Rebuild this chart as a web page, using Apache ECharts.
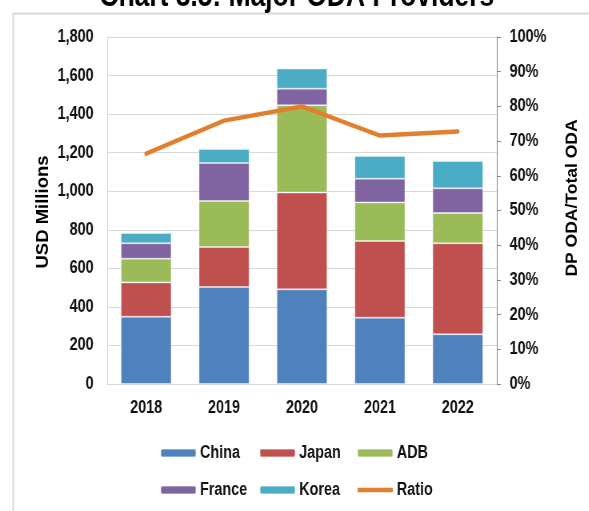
<!DOCTYPE html>
<html>
<head>
<meta charset="utf-8">
<style>
  html, body { margin: 0; padding: 0; background: #ffffff; overflow: hidden; }
  #frame { width: 589px; height: 511px; overflow: hidden; }
  /* the chart is laid out on a wider canvas and narrowed horizontally */
  #chart { width: 736px; height: 511px; transform: scaleX(0.8); transform-origin: 0 0; }
</style>
<script src="https://cdn.jsdelivr.net/npm/echarts@6/dist/echarts.min.js"></script>
</head>
<body>
<div id="frame"><div id="chart"></div></div>
<script>
// Development partner ODA by provider (USD millions) and the partners' share of total ODA
const years = ['2018', '2019', '2020', '2021', '2022'];
const china  = [349, 503, 491, 344, 258];
const japan  = [178, 208, 502, 398, 472];
const adb    = [123, 238, 453, 200, 157];
const france = [80, 197, 86, 123, 128];
const korea  = [53, 73, 104, 118, 142];
const ratio  = [0.664, 0.759, 0.800, 0.716, 0.728];

const leftTicks = { min: 0, max: 1800, interval: 200 };
const rightTicks = { min: 0, max: 1, interval: 0.1 };

const FONT = '"Liberation Sans", Arial, Helvetica, sans-serif';
const colors = {
  China: '#4F81BD', Japan: '#C0504D', ADB: '#9BBB59',
  France: '#8064A2', Korea: '#4BACC6', Ratio: '#E0802F'
};

function barSeries(name, values) {
  return {
    name: name,
    type: 'bar',
    stack: 'oda',
    barCategoryGap: '35%',
    data: values,
    itemStyle: { color: colors[name], borderColor: 'rgba(255,255,255,0.35)', borderWidth: 1 }
  };
}

function legendColumn(left, names) {
  return {
    orient: 'vertical',
    left: left,
    top: 444,
    padding: 0,
    itemWidth: 44,
    itemHeight: 8,
    itemGap: 19,
    data: names.map(n => n === 'Ratio'
      ? { name: n, icon: 'path://M0,0L40,0L40,4L0,4Z' }
      : { name: n }),
    textStyle: { fontFamily: FONT, fontWeight: 'bold', fontSize: 18, lineHeight: 18, color: '#111' }
  };
}

const chart = echarts.init(document.getElementById('chart'), null, { renderer: 'canvas' });
chart.setOption({
  animation: false,
  backgroundColor: '#ffffff',
  grid: { left: 134, right: 115, top: 37, bottom: 127, containLabel: false },
  graphic: [
    {
      type: 'rect', left: 14, top: 11, z: -10,
      shape: { x: 0, y: 0, width: 780, height: 540 },
      style: { fill: 'none', stroke: '#D9D9D9', lineWidth: 2 }
    },
    {
      type: 'text', x: 371, y: -3,
      style: {
        text: 'Chart 3.5: Major ODA Providers', fill: '#000',
        font: 'bold 33px ' + FONT, align: 'center', verticalAlign: 'middle'
      }
    },
    {
      type: 'text', x: 54, y: 212, rotation: Math.PI / 2, scaleY: 1.15,
      style: {
        text: 'USD Millions', fill: '#000',
        font: 'bold 18.5px ' + FONT, align: 'center', verticalAlign: 'middle'
      }
    },
    {
      type: 'text', x: 715, y: 198, rotation: Math.PI / 2, scaleY: 1.15,
      style: {
        text: 'DP ODA/Total ODA', fill: '#000',
        font: 'bold 17.5px ' + FONT, align: 'center', verticalAlign: 'middle'
      }
    }
  ],
  legend: [
    legendColumn(200, ['China', 'France']),
    legendColumn(324, ['Japan', 'Korea']),
    legendColumn(446, ['ADB', 'Ratio'])
  ],
  xAxis: {
    type: 'category',
    data: years,
    axisLine: { show: true, lineStyle: { color: '#D9D9D9', width: 1 } },
    axisTick: { show: false },
    axisLabel: { margin: 15, fontFamily: FONT, fontWeight: 'bold', fontSize: 18, color: '#111' }
  },
  yAxis: [
    {
      type: 'value',
      min: leftTicks.min, max: leftTicks.max, interval: leftTicks.interval,
      axisLine: { show: true, lineStyle: { color: '#D9D9D9', width: 1 } },
      axisTick: { show: false },
      splitLine: { show: true, lineStyle: { color: '#D9D9D9', width: 1 } },
      axisLabel: {
        margin: 17, fontFamily: FONT, fontWeight: 'bold', fontSize: 18, color: '#111',
        formatter: v => v.toLocaleString('en-US')
      }
    },
    {
      type: 'value',
      position: 'right',
      min: rightTicks.min, max: rightTicks.max, interval: rightTicks.interval,
      axisLine: { show: true, lineStyle: { color: '#868686', width: 1 } },
      axisTick: { show: true, inside: false, length: 5, lineStyle: { color: '#868686' } },
      splitLine: { show: false },
      axisLabel: {
        margin: 16, fontFamily: FONT, fontWeight: 'bold', fontSize: 18, color: '#111',
        formatter: v => Math.round(v * 100) + '%'
      }
    }
  ],
  series: [
    barSeries('China', china),
    barSeries('Japan', japan),
    barSeries('ADB', adb),
    barSeries('France', france),
    barSeries('Korea', korea),
    {
      name: 'Ratio',
      type: 'line',
      yAxisIndex: 1,
      data: ratio,
      symbol: 'none',
      z: 5,
      lineStyle: { color: colors.Ratio, width: 4.5, cap: 'round' },
      itemStyle: { color: colors.Ratio }
    }
  ]
});
</script>
</body>
</html>
